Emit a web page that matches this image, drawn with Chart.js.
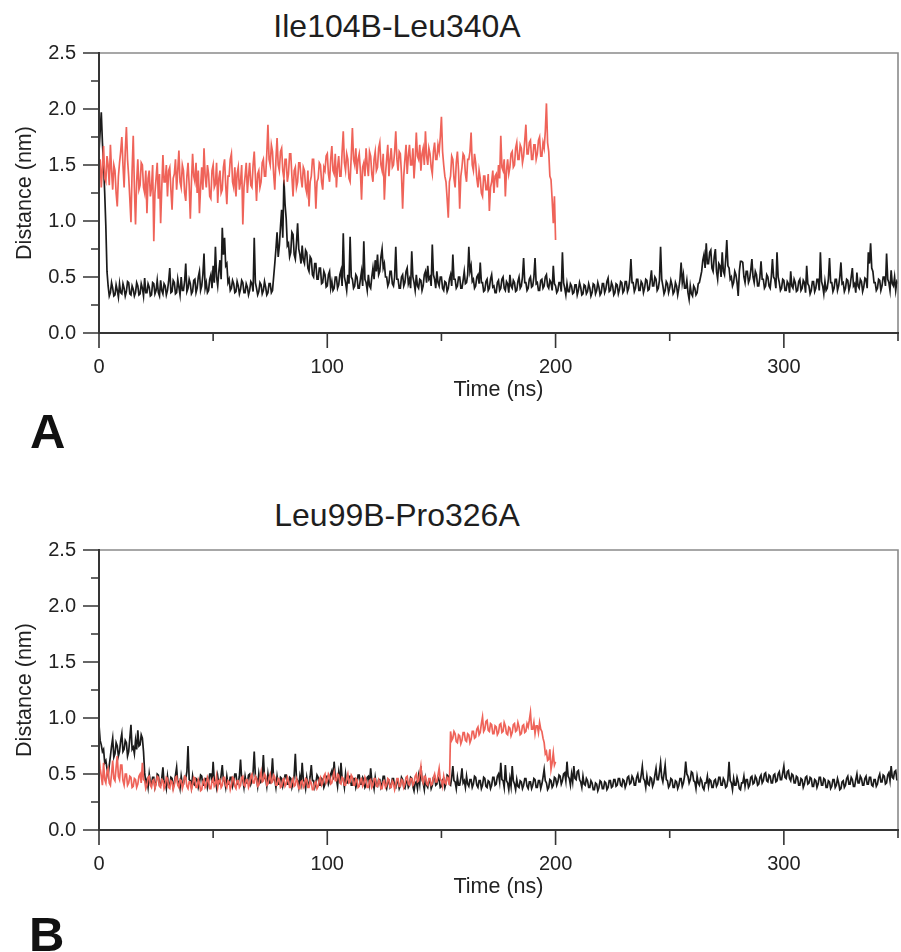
<!DOCTYPE html>
<html>
<head>
<meta charset="utf-8">
<script src="https://cdn.jsdelivr.net/npm/chart.js@4.4.1/dist/chart.umd.min.js"></script>
<style>
html,body{margin:0;padding:0;background:#fff;}
body{width:901px;height:952px;position:relative;overflow:hidden;font-family:"Liberation Sans",Arial,sans-serif;}
.panel{position:absolute;left:0;width:901px;height:420px;}
.title{position:absolute;font-size:32px;line-height:32px;color:#1e1e1e;white-space:nowrap;transform:translateX(-50%);}
.tag{position:absolute;font-weight:bold;font-size:49px;line-height:49px;color:#111;}
</style>
</head>
<body>
<div class="title" style="left:397px;top:10px;">Ile104B-Leu340A</div>
<canvas id="chartA" class="panel" style="top:0px;" width="901" height="420"></canvas>
<div class="tag" style="left:30px;top:407px;">A</div>

<div class="title" style="left:397px;top:499px;">Leu99B-Pro326A</div>
<canvas id="chartB" class="panel" style="top:497px;" width="901" height="420"></canvas>
<div class="tag" style="left:29px;top:910px;">B</div>

<script>
// ---- axis definitions ----
const X_TICKS = [0, 100, 200, 300];
const X_TICK_MARKS = [0, 50, 100, 150, 200, 250, 300, 350];
const Y_TICKS = [0, 0.5, 1.0, 1.5, 2.0, 2.5];
const Y_TICK_MARKS = [0, 0.25, 0.5, 0.75, 1.0, 1.25, 1.5, 1.75, 2.0, 2.25, 2.5];
const STEP_NS = 0.5; // sampling interval of the value arrays (ns); one row = 10 ns

// ---- Panel A: Ile104B-Leu340A ----
const A_black = [
1.62,1.80,1.97,1.70,1.50,1.25,0.95,0.55,0.42,0.33,0.36,0.45,0.40,0.33,0.34,0.43,0.38,0.32,0.44,0.36,
0.35,0.44,0.40,0.33,0.37,0.46,0.45,0.35,0.34,0.42,0.39,0.33,0.36,0.45,0.42,0.34,0.35,0.44,0.40,0.33,
0.49,0.36,0.36,0.44,0.41,0.33,0.34,0.45,0.44,0.35,0.38,0.47,0.36,0.33,0.47,0.38,0.35,0.44,0.42,0.34,
0.38,0.46,0.58,0.36,0.37,0.47,0.45,0.35,0.36,0.48,0.41,0.34,0.50,0.38,0.38,0.46,0.62,0.37,0.40,0.48,
0.44,0.35,0.37,0.47,0.48,0.36,0.40,0.50,0.55,0.38,0.42,0.52,0.71,0.40,0.45,0.36,0.38,0.48,0.52,0.40,
0.60,0.45,0.77,0.50,0.42,0.55,0.65,0.48,0.94,0.70,0.85,0.60,0.62,0.45,0.48,0.38,0.40,0.47,0.44,0.36,
0.37,0.46,0.42,0.35,0.39,0.47,0.45,0.36,0.36,0.44,0.41,0.34,0.38,0.46,0.44,0.37,0.85,0.45,0.40,0.34,
0.37,0.45,0.43,0.35,0.38,0.46,0.41,0.34,0.36,0.44,0.44,0.36,0.38,0.50,0.62,0.75,0.90,0.68,0.78,0.95,
1.10,0.85,1.37,1.15,1.02,0.78,0.80,0.68,0.72,0.90,0.88,0.70,0.66,0.80,0.98,0.75,0.70,0.62,0.78,0.65,
0.62,0.74,0.72,0.58,0.55,0.68,0.66,0.52,0.50,0.62,0.62,0.48,0.48,0.58,0.58,0.44,0.45,0.55,0.52,0.41,
0.42,0.52,0.55,0.40,0.46,0.38,0.40,0.50,0.50,0.40,0.43,0.52,0.56,0.42,0.89,0.50,0.45,0.38,0.52,0.44,
0.86,0.50,0.48,0.40,0.42,0.52,0.50,0.40,0.40,0.48,0.55,0.42,0.82,0.48,0.45,0.38,0.52,0.42,0.40,0.50,
0.58,0.48,0.65,0.55,0.70,0.52,0.55,0.68,0.75,0.58,0.62,0.50,0.50,0.42,0.45,0.55,0.55,0.44,0.42,0.50,
0.77,0.48,0.48,0.40,0.40,0.50,0.52,0.42,0.45,0.55,0.58,0.44,0.48,0.40,0.73,0.50,0.45,0.38,0.52,0.42,
0.40,0.48,0.47,0.38,0.42,0.52,0.55,0.45,0.60,0.48,0.50,0.42,0.79,0.52,0.48,0.40,0.55,0.45,0.42,0.50,
0.50,0.40,0.38,0.46,0.45,0.37,0.40,0.48,0.52,0.42,0.70,0.48,0.48,0.40,0.42,0.50,0.50,0.40,0.40,0.47,
0.55,0.44,0.45,0.52,0.77,0.55,0.60,0.46,0.48,0.40,0.42,0.50,0.52,0.44,0.63,0.45,0.45,0.37,0.38,0.46,
0.48,0.38,0.40,0.48,0.52,0.41,0.42,0.36,0.36,0.45,0.47,0.38,0.40,0.48,0.50,0.40,0.38,0.46,0.44,0.36,
0.52,0.42,0.40,0.47,0.45,0.37,0.38,0.46,0.50,0.40,0.42,0.50,0.67,0.45,0.45,0.38,0.40,0.48,0.50,0.41,
0.42,0.50,0.67,0.44,0.45,0.38,0.38,0.47,0.48,0.40,0.42,0.50,0.52,0.42,0.40,0.47,0.45,0.38,0.60,0.44,
0.42,0.36,0.38,0.45,0.45,0.37,0.72,0.45,0.40,0.34,0.44,0.37,0.37,0.44,0.42,0.35,0.36,0.43,0.43,0.34,
0.38,0.45,0.41,0.34,0.35,0.43,0.42,0.35,0.37,0.44,0.40,0.33,0.36,0.44,0.43,0.35,0.38,0.45,0.41,0.34,
0.36,0.44,0.44,0.36,0.39,0.46,0.49,0.37,0.38,0.45,0.42,0.34,0.36,0.44,0.43,0.35,0.39,0.46,0.45,0.36,
0.38,0.46,0.46,0.37,0.40,0.48,0.66,0.45,0.45,0.37,0.40,0.48,0.48,0.38,0.38,0.46,0.44,0.36,0.40,0.48,
0.47,0.38,0.39,0.47,0.56,0.42,0.42,0.50,0.48,0.38,0.40,0.47,0.77,0.48,0.42,0.35,0.38,0.46,0.44,0.36,
0.40,0.47,0.43,0.35,0.37,0.45,0.42,0.34,0.40,0.48,0.63,0.45,0.52,0.40,0.40,0.47,0.36,0.30,0.42,0.35,
0.33,0.42,0.40,0.34,0.36,0.44,0.45,0.50,0.55,0.65,0.70,0.58,0.80,0.62,0.62,0.72,0.74,0.58,0.55,0.68,
0.75,0.55,0.48,0.62,0.60,0.50,0.72,0.55,0.52,0.65,0.83,0.60,0.58,0.48,0.50,0.42,0.45,0.55,0.52,0.45,
0.33,0.55,0.64,0.64,0.63,0.50,0.45,0.55,0.55,0.45,0.48,0.56,0.66,0.50,0.45,0.55,0.52,0.42,0.42,0.50,
0.64,0.48,0.48,0.40,0.42,0.52,0.50,0.42,0.40,0.50,0.66,0.50,0.48,0.40,0.72,0.50,0.45,0.38,0.40,0.48,
0.47,0.38,0.38,0.46,0.44,0.36,0.55,0.42,0.40,0.48,0.45,0.37,0.38,0.46,0.48,0.38,0.40,0.47,0.45,0.36,
0.60,0.44,0.42,0.35,0.38,0.46,0.46,0.37,0.40,0.48,0.48,0.38,0.72,0.46,0.42,0.35,0.46,0.38,0.40,0.48,
0.67,0.45,0.45,0.37,0.40,0.48,0.48,0.38,0.42,0.50,0.63,0.44,0.45,0.37,0.40,0.48,0.47,0.38,0.42,0.50,
0.58,0.42,0.44,0.36,0.54,0.42,0.40,0.48,0.46,0.37,0.41,0.49,0.48,0.40,0.72,0.62,0.80,0.58,0.55,0.45,
0.45,0.38,0.40,0.48,0.47,0.38,0.42,0.50,0.50,0.42,0.71,0.48,0.45,0.38,0.56,0.44,0.42,0.50,0.38,0.46,
0.44
];
const A_red = [
1.42,1.55,1.30,1.48,1.67,1.38,1.35,1.58,1.50,1.32,1.68,1.45,1.28,1.50,1.45,1.25,1.13,1.40,1.52,1.62,
1.75,1.50,1.30,1.62,1.84,1.55,1.40,1.20,0.99,1.45,1.76,1.30,0.97,1.35,1.55,1.28,1.32,1.52,1.50,1.30,
1.25,1.45,1.07,1.38,1.45,1.22,1.30,1.50,0.82,1.25,1.38,1.52,1.20,1.42,0.98,1.30,1.59,1.35,1.35,1.50,
1.22,1.45,1.48,1.28,1.10,1.38,1.42,1.55,1.28,1.45,1.63,1.35,1.30,1.50,1.45,1.25,1.18,1.40,1.52,1.32,
1.02,1.35,1.60,1.40,1.35,1.52,1.25,1.45,1.07,1.30,1.48,1.28,1.65,1.40,1.30,1.50,1.42,1.22,1.20,1.45,
1.50,1.30,1.33,1.52,1.16,1.38,1.45,1.25,1.28,1.48,1.55,1.32,1.15,1.40,1.40,1.55,1.60,1.35,1.30,1.48,
1.22,1.42,1.48,1.28,1.35,1.50,0.97,1.30,1.40,1.52,1.25,1.40,1.52,1.32,1.30,1.50,1.62,1.40,1.18,1.42,
1.45,1.30,1.35,1.52,1.55,1.40,1.40,1.60,1.86,1.55,1.50,1.68,1.62,1.42,1.28,1.55,1.74,1.50,1.45,1.62,
1.65,1.45,1.38,1.55,1.55,1.35,1.42,1.60,1.60,1.40,1.22,1.45,1.48,1.30,1.35,1.52,1.52,1.38,1.30,1.48,
1.45,1.30,1.25,1.45,1.13,1.35,1.40,1.55,1.55,1.38,1.11,1.35,1.38,1.52,1.50,1.35,1.28,1.48,1.45,1.58,
1.60,1.42,1.35,1.55,1.67,1.45,1.42,1.60,1.30,1.48,1.58,1.40,1.40,1.62,1.80,1.52,1.45,1.60,1.55,1.38,
1.35,1.58,1.83,1.55,1.50,1.65,1.42,1.55,1.60,1.45,1.19,1.48,1.52,1.40,1.65,1.50,1.40,1.62,1.58,1.42,
1.35,1.55,1.62,1.45,1.48,1.65,1.70,1.50,1.45,1.60,1.19,1.42,1.55,1.68,1.40,1.55,1.65,1.48,1.50,1.62,
1.80,1.55,1.45,1.62,1.60,1.42,1.11,1.40,1.55,1.68,1.42,1.58,1.68,1.50,1.50,1.65,1.38,1.55,1.79,1.58,
1.55,1.68,1.45,1.60,1.65,1.50,1.80,1.58,1.50,1.65,1.60,1.48,1.42,1.62,1.70,1.55,1.55,1.68,1.62,1.75,
1.93,1.62,1.50,1.40,1.35,1.20,1.03,1.35,1.40,1.58,1.55,1.38,1.30,1.52,1.62,1.45,1.11,1.40,1.48,1.60,
1.58,1.42,1.35,1.55,1.55,1.62,1.79,1.50,1.45,1.60,1.52,1.38,1.30,1.45,1.38,1.25,1.22,1.40,1.40,1.28,
1.28,1.42,1.09,1.30,1.35,1.45,1.25,1.40,1.42,1.30,1.50,1.38,1.76,1.48,1.45,1.55,1.22,1.45,1.55,1.42,
1.48,1.60,1.62,1.48,1.50,1.65,1.70,1.55,1.55,1.68,1.65,1.52,1.58,1.72,1.86,1.60,1.60,1.70,1.72,1.55,
1.55,1.68,1.68,1.55,1.60,1.72,1.75,1.58,1.58,1.70,1.65,1.80,2.05,1.70,1.62,1.40,1.37,1.19,0.98,1.22,
0.83
];

// ---- Panel B: Leu99B-Pro326A ----
const B_black = [
0.94,0.80,0.76,0.70,0.72,0.60,0.62,0.55,0.49,0.58,0.66,0.75,0.82,0.65,0.68,0.78,0.75,0.66,0.70,0.80,
0.86,0.70,0.72,0.80,0.78,0.66,0.70,0.82,0.94,0.72,0.74,0.68,0.80,0.72,0.89,0.75,0.76,0.85,0.82,0.70,
0.51,0.42,0.45,0.38,0.50,0.42,0.41,0.47,0.47,0.38,0.42,0.50,0.49,0.40,0.40,0.46,0.56,0.42,0.43,0.37,
0.48,0.40,0.40,0.47,0.46,0.38,0.42,0.49,0.56,0.42,0.43,0.37,0.48,0.41,0.41,0.47,0.46,0.52,0.75,0.45,
0.44,0.38,0.48,0.41,0.40,0.46,0.45,0.38,0.42,0.49,0.48,0.40,0.40,0.46,0.46,0.38,0.43,0.50,0.50,0.42,
0.61,0.44,0.44,0.38,0.48,0.41,0.42,0.49,0.58,0.44,0.44,0.38,0.48,0.41,0.41,0.47,0.47,0.39,0.43,0.50,
0.50,0.41,0.42,0.48,0.63,0.45,0.45,0.38,0.48,0.42,0.42,0.49,0.50,0.41,0.44,0.52,0.70,0.48,0.46,0.39,
0.50,0.42,0.43,0.49,0.67,0.46,0.46,0.39,0.50,0.42,0.42,0.48,0.64,0.45,0.45,0.38,0.48,0.41,0.41,0.47,
0.46,0.39,0.43,0.49,0.49,0.41,0.41,0.47,0.46,0.38,0.42,0.49,0.68,0.46,0.44,0.38,0.48,0.42,0.60,0.45,
0.43,0.37,0.47,0.40,0.41,0.48,0.58,0.44,0.44,0.38,0.42,0.49,0.47,0.40,0.40,0.46,0.45,0.38,0.41,0.48,
0.48,0.41,0.44,0.50,0.53,0.45,0.61,0.47,0.46,0.39,0.51,0.43,0.60,0.46,0.45,0.38,0.50,0.42,0.42,0.48,
0.48,0.40,0.40,0.46,0.46,0.38,0.42,0.49,0.49,0.41,0.41,0.47,0.45,0.38,0.40,0.47,0.48,0.41,0.55,0.44,
0.43,0.37,0.47,0.40,0.39,0.45,0.45,0.38,0.41,0.48,0.48,0.40,0.37,0.43,0.44,0.38,0.40,0.46,0.46,0.39,
0.38,0.44,0.43,0.37,0.40,0.47,0.45,0.38,0.37,0.43,0.44,0.38,0.40,0.47,0.46,0.39,0.35,0.42,0.43,0.37,
0.48,0.41,0.57,0.45,0.42,0.36,0.46,0.40,0.38,0.44,0.44,0.37,0.40,0.47,0.48,0.40,0.41,0.47,0.45,0.38,
0.39,0.45,0.46,0.38,0.42,0.49,0.48,0.41,0.40,0.47,0.57,0.44,0.43,0.37,0.47,0.40,0.40,0.46,0.55,0.42,
0.44,0.38,0.48,0.41,0.39,0.45,0.45,0.38,0.41,0.48,0.47,0.40,0.38,0.44,0.44,0.37,0.40,0.47,0.46,0.39,
0.38,0.44,0.43,0.37,0.40,0.47,0.47,0.40,0.41,0.48,0.50,0.43,0.60,0.45,0.44,0.38,0.58,0.44,0.42,0.36,
0.46,0.39,0.57,0.44,0.41,0.36,0.45,0.39,0.38,0.44,0.43,0.37,0.40,0.46,0.46,0.39,0.37,0.43,0.43,0.37,
0.40,0.46,0.45,0.38,0.38,0.44,0.44,0.37,0.41,0.47,0.54,0.44,0.42,0.36,0.38,0.45,0.44,0.38,0.40,0.47,
0.46,0.40,0.43,0.49,0.48,0.41,0.44,0.50,0.51,0.44,0.61,0.48,0.46,0.40,0.50,0.43,0.57,0.46,0.45,0.52,
0.53,0.45,0.43,0.38,0.48,0.41,0.40,0.46,0.44,0.38,0.38,0.44,0.42,0.36,0.36,0.42,0.41,0.35,0.38,0.44,
0.43,0.37,0.37,0.43,0.42,0.36,0.38,0.44,0.44,0.38,0.39,0.45,0.45,0.39,0.40,0.46,0.46,0.40,0.39,0.45,
0.44,0.38,0.41,0.47,0.48,0.41,0.42,0.48,0.46,0.40,0.40,0.47,0.50,0.43,0.43,0.49,0.57,0.46,0.44,0.38,
0.48,0.41,0.40,0.47,0.46,0.39,0.42,0.49,0.55,0.45,0.45,0.52,0.60,0.47,0.43,0.50,0.58,0.45,0.44,0.38,
0.40,0.46,0.45,0.38,0.38,0.44,0.43,0.37,0.40,0.46,0.46,0.39,0.42,0.48,0.61,0.50,0.48,0.42,0.45,0.52,
0.51,0.44,0.43,0.37,0.48,0.42,0.40,0.46,0.44,0.38,0.36,0.42,0.42,0.48,0.39,0.45,0.44,0.38,0.38,0.44,
0.45,0.39,0.41,0.47,0.47,0.40,0.40,0.46,0.44,0.38,0.39,0.45,0.61,0.44,0.42,0.36,0.46,0.40,0.40,0.47,
0.43,0.37,0.36,0.42,0.42,0.48,0.39,0.45,0.45,0.38,0.40,0.47,0.48,0.41,0.42,0.48,0.46,0.40,0.41,0.47,
0.49,0.42,0.44,0.50,0.51,0.44,0.43,0.49,0.48,0.42,0.42,0.49,0.50,0.43,0.44,0.50,0.52,0.45,0.45,0.51,
0.57,0.47,0.46,0.52,0.53,0.46,0.44,0.50,0.49,0.42,0.42,0.48,0.47,0.40,0.40,0.46,0.45,0.38,0.41,0.47,
0.48,0.41,0.42,0.47,0.46,0.39,0.39,0.45,0.44,0.38,0.41,0.47,0.47,0.40,0.40,0.46,0.45,0.38,0.38,0.44,
0.43,0.37,0.39,0.45,0.45,0.38,0.40,0.46,0.42,0.36,0.37,0.43,0.44,0.38,0.40,0.46,0.48,0.41,0.41,0.47,
0.45,0.39,0.39,0.45,0.50,0.42,0.42,0.48,0.46,0.40,0.40,0.46,0.48,0.41,0.41,0.47,0.47,0.40,0.39,0.45,
0.45,0.39,0.41,0.47,0.50,0.43,0.43,0.49,0.48,0.41,0.42,0.49,0.51,0.44,0.57,0.47,0.46,0.52,0.53,0.45,
0.45
];
const B_red = [
0.65,0.55,0.48,0.40,0.60,0.45,0.42,0.52,0.55,0.42,0.40,0.50,0.62,0.46,0.44,0.56,0.66,0.48,0.45,0.58,
0.58,0.44,0.40,0.50,0.50,0.40,0.42,0.48,0.47,0.38,0.39,0.46,0.45,0.38,0.41,0.48,0.50,0.42,0.60,0.45,
0.44,0.37,0.40,0.47,0.48,0.40,0.38,0.44,0.45,0.37,0.41,0.48,0.47,0.39,0.38,0.45,0.44,0.37,0.40,0.47,
0.46,0.38,0.37,0.44,0.43,0.36,0.40,0.47,0.48,0.40,0.38,0.45,0.44,0.37,0.41,0.48,0.47,0.39,0.37,0.43,
0.43,0.36,0.40,0.47,0.46,0.38,0.38,0.45,0.42,0.35,0.36,0.43,0.45,0.38,0.40,0.47,0.44,0.37,0.37,0.44,
0.46,0.39,0.41,0.48,0.38,0.44,0.45,0.38,0.40,0.47,0.47,0.40,0.38,0.44,0.43,0.36,0.40,0.47,0.46,0.39,
0.37,0.44,0.44,0.38,0.40,0.47,0.48,0.40,0.39,0.45,0.45,0.38,0.41,0.48,0.50,0.42,0.42,0.48,0.46,0.39,
0.40,0.47,0.52,0.43,0.44,0.50,0.48,0.40,0.41,0.47,0.50,0.42,0.43,0.49,0.47,0.40,0.40,0.46,0.45,0.38,
0.39,0.45,0.46,0.39,0.41,0.47,0.44,0.38,0.38,0.44,0.46,0.39,0.40,0.46,0.43,0.37,0.37,0.43,0.44,0.38,
0.40,0.46,0.45,0.38,0.38,0.44,0.42,0.36,0.36,0.42,0.43,0.37,0.39,0.45,0.47,0.40,0.42,0.48,0.50,0.42,
0.44,0.50,0.48,0.41,0.42,0.48,0.52,0.44,0.44,0.50,0.49,0.42,0.41,0.47,0.46,0.40,0.40,0.46,0.50,0.42,
0.43,0.49,0.47,0.40,0.40,0.46,0.45,0.38,0.39,0.45,0.46,0.39,0.41,0.47,0.44,0.38,0.38,0.44,0.45,0.38,
0.40,0.46,0.46,0.39,0.39,0.45,0.43,0.37,0.37,0.43,0.44,0.38,0.40,0.46,0.45,0.38,0.38,0.44,0.42,0.36,
0.40,0.46,0.46,0.39,0.39,0.45,0.44,0.38,0.41,0.47,0.48,0.41,0.40,0.46,0.46,0.40,0.42,0.48,0.50,0.43,
0.44,0.50,0.57,0.45,0.42,0.48,0.48,0.41,0.40,0.46,0.46,0.40,0.41,0.47,0.50,0.43,0.43,0.49,0.55,0.45,
0.44,0.39,0.48,0.42,0.41,0.47,0.46,0.40,0.88,0.80,0.82,0.88,0.86,0.79,0.78,0.85,0.84,0.77,0.80,0.87,
0.87,0.80,0.79,0.86,0.85,0.78,0.81,0.88,0.88,0.82,0.83,0.90,0.92,0.85,0.87,0.95,1.01,0.88,0.90,0.97,
0.98,0.89,0.88,0.95,0.94,0.86,0.86,0.93,0.92,0.85,0.87,0.94,0.95,0.87,0.88,0.96,0.93,0.86,0.85,0.92,
0.91,0.84,0.87,0.94,0.95,0.88,0.89,0.96,0.92,0.85,0.86,0.93,0.94,0.87,0.88,0.95,0.92,0.98,1.05,0.90,
0.90,0.96,0.86,0.93,0.93,0.87,0.96,0.90,0.88,0.82,0.78,0.68,0.70,0.62,0.63,0.72,0.54,0.60,0.69,0.58,
0.61
];

const RED = '#EF6359';
const BLACK = '#1b1b1b';
const FONT = '"Liberation Sans", Arial, sans-serif';

function toPoints(vals){ return vals.map((v,i)=>({x:i*STEP_NS, y:v})); }

const framePlugin = {
  id:'frameTicks',
  afterDraw(chart){
    const ctx = chart.ctx;
    const {left,right,top,bottom} = chart.chartArea;
    const xs = chart.scales.x, ys = chart.scales.y;
    ctx.save();
    ctx.lineCap = 'butt';
    ctx.strokeStyle = '#8a8a8a'; ctx.lineWidth = 1.6;
    ctx.beginPath(); ctx.moveTo(left, top); ctx.lineTo(right, top); ctx.lineTo(right, bottom); ctx.stroke();
    ctx.strokeStyle = '#353535'; ctx.lineWidth = 2;
    ctx.beginPath(); ctx.moveTo(left, top - 1); ctx.lineTo(left, bottom); ctx.lineTo(right + 1, bottom); ctx.stroke();
    ctx.lineWidth = 1.6; ctx.strokeStyle = '#353535';
    ctx.beginPath();
    Y_TICK_MARKS.forEach(v=>{
      const p = ys.getPixelForValue(v);
      const len = Y_TICKS.includes(v) ? 16 : 8;
      ctx.moveTo(left, p); ctx.lineTo(left - len, p);
    });
    X_TICK_MARKS.forEach(v=>{
      const p = xs.getPixelForValue(v);
      const len = X_TICKS.includes(v) ? 15 : 8;
      ctx.moveTo(p, bottom); ctx.lineTo(p, bottom + len);
    });
    ctx.stroke();
    ctx.restore();
  }
};

function makeChart(id, black, red){
  return new Chart(document.getElementById(id), {
    type: 'line',
    data: {
      datasets: [
        {label:'red', data: toPoints(red), borderColor: RED, borderWidth: 1.7, pointRadius: 0, tension: 0, fill: false},
        {label:'black', data: toPoints(black), borderColor: BLACK, borderWidth: 1.7, pointRadius: 0, tension: 0, fill: false}
      ]
    },
    options: {
      responsive: false,
      maintainAspectRatio: false,
      animation: false,
      devicePixelRatio: 1,
      layout: {padding: {top: 53, right: 3, left: 0, bottom: 0}},
      plugins: {legend: {display: false}, tooltip: {enabled: false}, title: {display: false}},
      scales: {
        x: {
          type: 'linear', position: 'bottom', min: 0, max: 350,
          grid: {display: false, drawTicks: false},
          border: {display: false},
          afterBuildTicks: s => { s.ticks = X_TICKS.map(v => ({value: v})); },
          afterFit: s => { s.height = 87; },
          ticks: {padding: 22, color: '#222', font: {family: FONT, size: 20}, maxRotation: 0, callback: v => String(v)},
          title: {display: true, text: 'Time (ns)', color: '#222', font: {family: FONT, size: 21.5}, padding: {top: 0, bottom: 17}}
        },
        y: {
          type: 'linear', position: 'left', min: 0, max: 2.5,
          grid: {display: false, drawTicks: false},
          border: {display: false},
          afterBuildTicks: s => { s.ticks = Y_TICKS.map(v => ({value: v})); },
          afterFit: s => { s.width = 99; },
          ticks: {padding: 23, color: '#222', font: {family: FONT, size: 20}, callback: v => Number(v).toFixed(1)},
          title: {display: true, text: 'Distance (nm)', color: '#222', font: {family: FONT, size: 21.5}, padding: {top: 12, bottom: 0}}
        }
      }
    },
    plugins: [framePlugin]
  });
}

makeChart('chartA', A_black, A_red);
makeChart('chartB', B_black, B_red);
</script>
</body>
</html>
